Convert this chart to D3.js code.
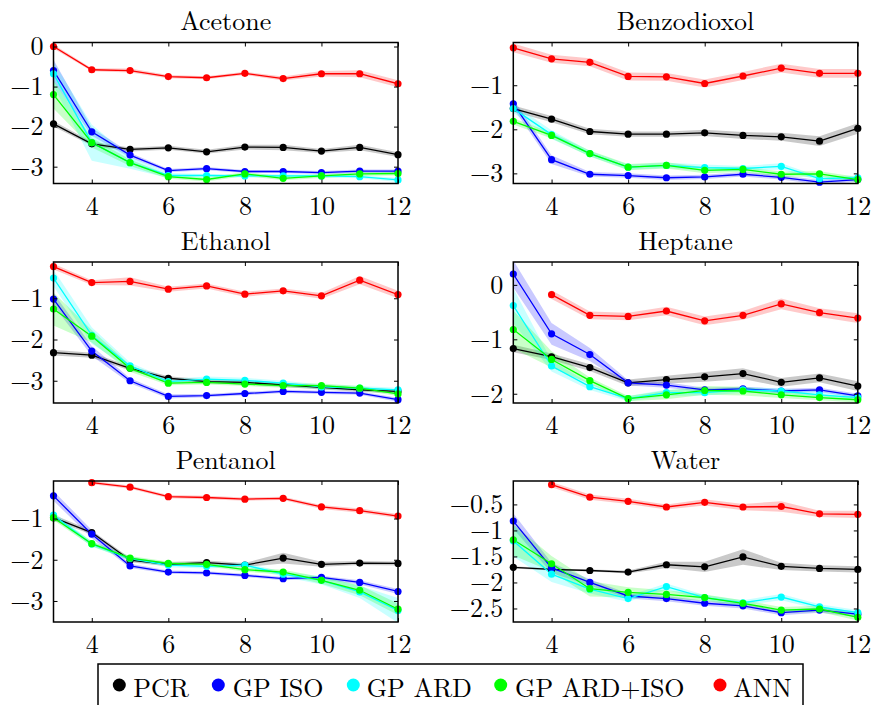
<!DOCTYPE html>
<html>
<head>
<meta charset="utf-8">
<script src="https://cdn.jsdelivr.net/npm/d3@7"></script>
<style>
  html, body { margin: 0; padding: 0; background: #fff; }
  svg { display: block; }
</style>
</head>
<body>
<svg id="chart" width="872" height="705"></svg>
<script>
// Number of principal components / inputs on the x axis
const xValues = [3, 4, 5, 6, 7, 8, 9, 10, 11, 12];
const xTickValues = [4, 6, 8, 10, 12];

const seriesNames = ["PCR", "GP ISO", "GP ARD", "GP ARD+ISO", "ANN"];
const seriesColors = ["#000000", "#0000ff", "#00ffff", "#00ff00", "#ff0000"];

const panelTitles = ["Acetone", "Benzodioxol", "Ethanol", "Heptane", "Pentanol", "Water"];

// Mean log error per series: [PCR, GP ISO, GP ARD, GP ARD+ISO, ANN]
const acetoneMean = [
  [-1.93, -2.43, -2.57, -2.53, -2.63, -2.51, -2.52, -2.61, -2.52, -2.70],
  [-0.60, -2.13, -2.71, -3.10, -3.05, -3.12, -3.12, -3.15, -3.11, -3.11],
  [-0.68, -2.40, -2.90, -3.22, -3.22, -3.23, -3.23, -3.23, -3.25, -3.33],
  [-1.20, -2.40, -2.90, -3.25, -3.32, -3.18, -3.29, -3.23, -3.18, -3.17],
  [0.00, -0.58, -0.60, -0.75, -0.78, -0.67, -0.80, -0.68, -0.68, -0.93]
];
const benzodioxolMean = [
  [-1.53, -1.77, -2.05, -2.11, -2.11, -2.08, -2.14, -2.17, -2.27, -1.98],
  [-1.42, -2.69, -3.02, -3.05, -3.10, -3.08, -3.02, -3.09, -3.20, -3.14],
  [-1.53, -2.12, -2.55, -2.86, -2.82, -2.87, -2.89, -2.84, -3.12, -3.10],
  [-1.82, -2.14, -2.55, -2.86, -2.82, -2.93, -2.91, -3.02, -3.01, -3.14],
  [-0.15, -0.40, -0.48, -0.80, -0.81, -0.96, -0.79, -0.61, -0.73, -0.73]
];
const ethanolMean = [
  [-2.32, -2.38, -2.70, -2.94, -3.02, -3.04, -3.10, -3.16, -3.22, -3.26],
  [-1.02, -2.28, -3.00, -3.38, -3.36, -3.31, -3.26, -3.28, -3.30, -3.46],
  [-0.51, -1.90, -2.64, -3.02, -2.96, -2.99, -3.06, -3.15, -3.18, -3.22],
  [-1.26, -1.92, -2.70, -3.06, -3.04, -3.08, -3.12, -3.12, -3.18, -3.32],
  [-0.23, -0.62, -0.59, -0.78, -0.70, -0.90, -0.82, -0.94, -0.56, -0.91]
];
const heptaneMean = [
  [-1.17, -1.32, -1.52, -1.80, -1.74, -1.69, -1.63, -1.79, -1.71, -1.86],
  [0.20, -0.90, -1.28, -1.80, -1.84, -1.93, -1.91, -1.95, -1.93, -2.04],
  [-0.38, -1.49, -1.87, -2.09, -1.98, -1.98, -1.93, -1.95, -2.02, -2.07],
  [-0.82, -1.37, -1.76, -2.09, -2.02, -1.94, -1.95, -2.02, -2.07, -2.11],
  [null, -0.18, -0.56, -0.58, -0.48, -0.66, -0.56, -0.35, -0.51, -0.61]
];
const pentanolMean = [
  [-0.98, -1.34, -2.01, -2.11, -2.07, -2.13, -1.96, -2.11, -2.08, -2.09],
  [-0.45, -1.38, -2.15, -2.30, -2.32, -2.38, -2.46, -2.43, -2.55, -2.77],
  [-0.92, -1.62, -1.97, -2.13, -2.16, -2.13, -2.35, -2.50, -2.78, -3.23],
  [-0.98, -1.61, -1.96, -2.09, -2.11, -2.24, -2.30, -2.50, -2.74, -3.20],
  [null, -0.13, -0.24, -0.47, -0.49, -0.53, -0.51, -0.72, -0.81, -0.94]
];
const waterMean = [
  [-1.71, -1.75, -1.77, -1.80, -1.66, -1.70, -1.51, -1.69, -1.73, -1.75],
  [-0.82, -1.72, -2.00, -2.26, -2.31, -2.40, -2.45, -2.58, -2.53, -2.61],
  [-1.20, -1.84, -2.13, -2.31, -2.08, -2.29, -2.39, -2.28, -2.47, -2.58],
  [-1.18, -1.64, -2.12, -2.19, -2.23, -2.29, -2.40, -2.53, -2.51, -2.67],
  [null, -0.12, -0.36, -0.44, -0.55, -0.46, -0.55, -0.54, -0.68, -0.69]
];

// Half-width of the shaded spread around each mean
const acetoneSpread = [
  [0.07, 0.05, 0.05, 0.05, 0.05, 0.06, 0.07, 0.05, 0.07, 0.06],
  [0.27, 0.10, 0.06, 0.04, 0.04, 0.04, 0.04, 0.04, 0.04, 0.04],
  [0.30, 0.45, 0.15, 0.06, 0.04, 0.04, 0.04, 0.04, 0.04, 0.05],
  [0.35, 0.12, 0.08, 0.05, 0.05, 0.05, 0.05, 0.05, 0.05, 0.05],
  [0.05, 0.04, 0.05, 0.04, 0.04, 0.04, 0.05, 0.07, 0.09, 0.09]
];
const benzodioxolSpread = [
  [0.07, 0.07, 0.06, 0.06, 0.06, 0.07, 0.08, 0.09, 0.11, 0.12],
  [0.10, 0.10, 0.05, 0.05, 0.05, 0.05, 0.05, 0.05, 0.05, 0.05],
  [0.10, 0.10, 0.06, 0.06, 0.06, 0.07, 0.06, 0.07, 0.05, 0.05],
  [0.07, 0.07, 0.07, 0.07, 0.07, 0.07, 0.06, 0.06, 0.06, 0.06],
  [0.10, 0.09, 0.09, 0.09, 0.09, 0.09, 0.09, 0.10, 0.10, 0.10]
];
const ethanolSpread = [
  [0.07, 0.06, 0.05, 0.05, 0.05, 0.05, 0.05, 0.05, 0.05, 0.05],
  [0.15, 0.12, 0.06, 0.05, 0.04, 0.04, 0.04, 0.04, 0.04, 0.05],
  [0.20, 0.20, 0.08, 0.06, 0.06, 0.06, 0.06, 0.06, 0.05, 0.05],
  [0.40, 0.15, 0.08, 0.05, 0.05, 0.05, 0.05, 0.05, 0.05, 0.05],
  [0.07, 0.06, 0.10, 0.06, 0.06, 0.06, 0.06, 0.07, 0.10, 0.09]
];
const heptaneSpread = [
  [0.07, 0.06, 0.06, 0.06, 0.07, 0.09, 0.10, 0.08, 0.08, 0.09],
  [0.25, 0.20, 0.12, 0.05, 0.05, 0.04, 0.04, 0.04, 0.04, 0.04],
  [0.32, 0.10, 0.06, 0.05, 0.06, 0.05, 0.05, 0.05, 0.05, 0.05],
  [0.35, 0.15, 0.06, 0.05, 0.08, 0.08, 0.08, 0.06, 0.05, 0.05],
  [0, 0.08, 0.07, 0.07, 0.08, 0.08, 0.08, 0.10, 0.08, 0.09]
];
const pentanolSpread = [
  [0.07, 0.05, 0.05, 0.05, 0.05, 0.05, 0.13, 0.06, 0.05, 0.05],
  [0.12, 0.10, 0.05, 0.04, 0.04, 0.04, 0.04, 0.04, 0.05, 0.06],
  [0.08, 0.06, 0.05, 0.05, 0.05, 0.05, 0.06, 0.10, 0.15, 0.30],
  [0.06, 0.06, 0.05, 0.05, 0.05, 0.05, 0.06, 0.08, 0.12, 0.14],
  [0, 0.04, 0.04, 0.04, 0.04, 0.04, 0.04, 0.05, 0.05, 0.05]
];
const waterSpread = [
  [0.02, 0.02, 0.02, 0.03, 0.06, 0.10, 0.15, 0.07, 0.06, 0.06],
  [0.15, 0.10, 0.06, 0.05, 0.05, 0.05, 0.05, 0.05, 0.05, 0.05],
  [0.30, 0.15, 0.08, 0.06, 0.06, 0.05, 0.05, 0.06, 0.05, 0.05],
  [0.30, 0.15, 0.15, 0.10, 0.08, 0.06, 0.06, 0.06, 0.06, 0.06],
  [0, 0.05, 0.05, 0.05, 0.05, 0.06, 0.06, 0.10, 0.06, 0.07]
];

const panelMeans = [acetoneMean, benzodioxolMean, ethanolMean, heptaneMean, pentanolMean, waterMean];
const panelSpreads = [acetoneSpread, benzodioxolSpread, ethanolSpread, heptaneSpread, pentanolSpread, waterSpread];

const yDomains = [[-3.42, 0.10], [-3.23, -0.03], [-3.54, -0.12], [-2.17, 0.42], [-3.51, -0.09], [-2.76, -0.05]];
const yTickValues = [[-3, -2, -1, 0], [-3, -2, -1], [-3, -2, -1], [-2, -1, 0], [-3, -2, -1], [-2.5, -2, -1.5, -1, -0.5]];

// Grid layout of the six panels
const colLeft = [53.5, 513.3];
const rowTop = [42.5, 262, 481];
const plotW = 344.5;
const plotH = 141;
const fontFamily = '"Latin Modern Roman", "Liberation Serif", serif';
const fontSize = 26;

const svg = d3.select("#chart");
const fmt = d3.format("~g");

const styleText = sel => sel
  .style("font-family", fontFamily)
  .style("font-size", fontSize + "px")
  .attr("fill", "#000");

panelTitles.forEach((title, p) => {
  const left = colLeft[p % 2];
  const top = rowTop[Math.floor(p / 2)];
  const g = svg.append("g").attr("transform", `translate(${left},${top})`);

  const x = d3.scaleLinear().domain([3, 12]).range([0, plotW]);
  const y = d3.scaleLinear().domain(yDomains[p]).range([plotH, 0]);

  const clipId = `clip-${p}`;
  g.append("clipPath").attr("id", clipId)
    .append("rect").attr("x", 0).attr("y", 0).attr("width", plotW).attr("height", plotH);

  const plot = g.append("g").attr("clip-path", `url(#${clipId})`);
  const means = panelMeans[p];
  const spreads = panelSpreads[p];

  // shaded spread bands first
  means.forEach((m, s) => {
    const pts = xValues.map((xv, i) => ({ x: xv, m: m[i], d: spreads[s][i] }));
    const area = d3.area()
      .defined(d => d.m !== null)
      .x(d => x(d.x))
      .y0(d => y(d.m - d.d))
      .y1(d => y(d.m + d.d));
    plot.append("path")
      .datum(pts)
      .attr("d", area)
      .attr("fill", seriesColors[s])
      .attr("fill-opacity", 0.21)
      .attr("stroke", "none");
  });

  // mean lines with markers
  means.forEach((m, s) => {
    const pts = xValues.map((xv, i) => ({ x: xv, m: m[i] }));
    const line = d3.line()
      .defined(d => d.m !== null)
      .x(d => x(d.x))
      .y(d => y(d.m));
    plot.append("path")
      .datum(pts)
      .attr("d", line)
      .attr("fill", "none")
      .attr("stroke", seriesColors[s])
      .attr("stroke-width", 1.3);
    g.append("g").selectAll("circle")
      .data(pts.filter(d => d.m !== null))
      .join("circle")
      .attr("cx", d => x(d.x))
      .attr("cy", d => y(d.m))
      .attr("r", 3.6)
      .attr("fill", seriesColors[s]);
  });

  // axes with inward ticks on all four sides
  const styleAxis = sel => {
    sel.attr("font-family", null).attr("font-size", null);
    sel.select(".domain").remove();
    sel.selectAll(".tick line").attr("stroke", "#000").attr("stroke-width", 1);
    sel.selectAll(".tick text").call(styleText);
  };

  g.append("g")
    .call(d3.axisLeft(y).tickValues(yTickValues[p]).tickFormat(fmt).tickSizeInner(-4).tickSizeOuter(0).tickPadding(10))
    .call(styleAxis);
  g.append("g").attr("transform", `translate(${plotW},0)`)
    .call(d3.axisRight(y).tickValues(yTickValues[p]).tickFormat("").tickSizeInner(-4).tickSizeOuter(0))
    .call(styleAxis);
  g.append("g").attr("transform", `translate(0,${plotH})`)
    .call(d3.axisBottom(x).tickValues(xTickValues).tickFormat(fmt).tickSizeInner(-4).tickSizeOuter(0).tickPadding(13))
    .call(styleAxis);
  g.append("g")
    .call(d3.axisTop(x).tickValues(xTickValues).tickFormat("").tickSizeInner(-4).tickSizeOuter(0))
    .call(styleAxis);

  g.append("rect")
    .attr("x", 0).attr("y", 0).attr("width", plotW).attr("height", plotH)
    .attr("fill", "none").attr("stroke", "#000").attr("stroke-width", 1.5);

  g.append("text")
    .attr("x", plotW / 2)
    .attr("y", -12.5)
    .attr("text-anchor", "middle")
    .call(styleText)
    .text(title);
});

// Legend along the bottom edge
const legendDotX = [119.3, 218.3, 353.3, 500.7, 720];
const legendTextX = [133.3, 232.7, 366.7, 515, 733.3];
const legend = svg.append("g");
legend.append("rect")
  .attr("x", 98).attr("y", 664).attr("width", 705).attr("height", 60)
  .attr("fill", "#fff").attr("stroke", "#000").attr("stroke-width", 1.5);
seriesNames.forEach((name, s) => {
  legend.append("circle")
    .attr("cx", legendDotX[s]).attr("cy", 685).attr("r", 6.5)
    .attr("fill", seriesColors[s]);
  legend.append("text")
    .attr("x", legendTextX[s]).attr("y", 697)
    .call(styleText)
    .text(name);
});
</script>
</body>
</html>
